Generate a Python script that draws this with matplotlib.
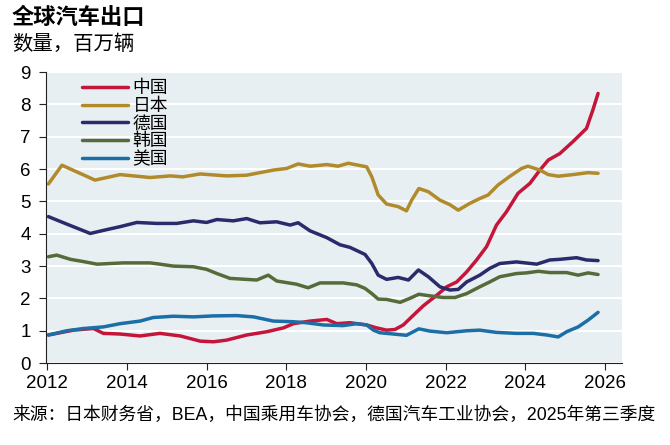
import matplotlib
matplotlib.use('Agg')
import matplotlib.pyplot as plt

plt.rcParams['font.family'] = ['Liberation Sans', 'Noto Sans CJK SC']

# values (million vehicles)
china_x = [2012.03, 2012.66, 2013.16, 2013.41, 2013.83, 2014.33, 2014.83, 2015.34, 2015.84, 2016.17,
           2016.5, 2017.01, 2017.51, 2017.93, 2018.18, 2018.6, 2019.02, 2019.27, 2019.6, 2020.02,
           2020.27, 2020.52, 2020.73, 2020.94, 2021.15, 2021.44, 2021.78, 2022.03, 2022.28, 2022.53,
           2022.78, 2023.03, 2023.28, 2023.53, 2023.82, 2024.12, 2024.37, 2024.58, 2024.87, 2025.2,
           2025.54, 2025.7, 2025.83]
china_y = [0.87, 1.02, 1.07, 0.92, 0.90, 0.84, 0.92, 0.84, 0.68, 0.66,
           0.71, 0.87, 0.97, 1.09, 1.22, 1.30, 1.35, 1.22, 1.25, 1.18,
           1.09, 1.02, 1.04, 1.18, 1.43, 1.77, 2.10, 2.36, 2.51, 2.82,
           3.19, 3.60, 4.27, 4.68, 5.25, 5.56, 5.97, 6.28, 6.48, 6.85,
           7.26, 7.83, 8.34]

japan_x = [2012.03, 2012.37, 2013.2, 2013.83, 2014.58, 2015.1, 2015.4, 2015.84, 2016.5, 2017.0,
           2017.68, 2018.01, 2018.3, 2018.6, 2019.02, 2019.3, 2019.56, 2020.02, 2020.15, 2020.31,
           2020.52, 2020.81, 2021.02, 2021.15, 2021.33, 2021.57, 2021.86, 2022.11, 2022.32, 2022.61,
           2022.86, 2023.07, 2023.32, 2023.62, 2023.91, 2024.07, 2024.37, 2024.58, 2024.83, 2025.2,
           2025.58, 2025.83]
japan_y = [5.54, 6.12, 5.66, 5.83, 5.74, 5.79, 5.76, 5.85, 5.79, 5.81,
           5.97, 6.02, 6.16, 6.09, 6.14, 6.09, 6.18, 6.07, 5.76, 5.20,
           4.92, 4.84, 4.71, 5.04, 5.40, 5.30, 5.04, 4.90, 4.73, 4.94,
           5.09, 5.20, 5.51, 5.78, 6.02, 6.09, 5.97, 5.83, 5.78, 5.83,
           5.89, 5.87]

germany_x = [2012.03, 2012.49, 2013.08, 2013.5, 2013.83, 2014.25, 2014.75, 2015.25, 2015.67, 2016.0,
             2016.26, 2016.67, 2017.01, 2017.34, 2017.76, 2018.1, 2018.3, 2018.6, 2019.02, 2019.35,
             2019.6, 2019.98, 2020.15, 2020.31, 2020.52, 2020.81, 2021.07, 2021.32, 2021.57, 2021.86,
             2022.11, 2022.32, 2022.53, 2022.86, 2023.11, 2023.36, 2023.78, 2024.29, 2024.62, 2024.87,
             2025.29, 2025.54, 2025.83]
germany_y = [4.53, 4.30, 4.01, 4.13, 4.22, 4.35, 4.32, 4.32, 4.40, 4.35,
             4.44, 4.40, 4.47, 4.34, 4.37, 4.27, 4.34, 4.09, 3.88, 3.66,
             3.58, 3.36, 3.08, 2.72, 2.59, 2.65, 2.57, 2.88, 2.67, 2.36,
             2.26, 2.28, 2.51, 2.72, 2.93, 3.08, 3.13, 3.06, 3.19, 3.21,
             3.26, 3.19, 3.17]

korea_x = [2012.03, 2012.24, 2012.58, 2012.91, 2013.25, 2013.91, 2014.58, 2014.83, 2015.17, 2015.67,
           2016.0, 2016.26, 2016.59, 2017.0, 2017.26, 2017.55, 2017.76, 2018.26, 2018.55, 2018.85,
           2019.43, 2019.77, 2019.98, 2020.15, 2020.31, 2020.52, 2020.86, 2021.1, 2021.33, 2021.61,
           2021.94, 2022.24, 2022.53, 2022.86, 2023.11, 2023.36, 2023.78, 2024.03, 2024.33, 2024.62,
           2025.04, 2025.33, 2025.58, 2025.83]
korea_y = [3.29, 3.34, 3.21, 3.14, 3.06, 3.10, 3.10, 3.06, 3.00, 2.98,
           2.90, 2.77, 2.62, 2.59, 2.57, 2.72, 2.54, 2.44, 2.33, 2.48,
           2.48, 2.42, 2.31, 2.15, 1.98, 1.97, 1.88, 2.00, 2.13, 2.08,
           2.03, 2.03, 2.15, 2.36, 2.51, 2.67, 2.77, 2.79, 2.84, 2.80,
           2.80, 2.72, 2.79, 2.74]

usa_x = [2012.03, 2012.49, 2012.91, 2013.41, 2013.83, 2014.33, 2014.66, 2015.17, 2015.67, 2016.17,
         2016.76, 2017.18, 2017.68, 2018.18, 2018.5, 2018.93, 2019.43, 2019.77, 2020.02, 2020.19,
         2020.35, 2020.69, 2021.02, 2021.33, 2021.61, 2022.03, 2022.53, 2022.86, 2023.28, 2023.78,
         2024.2, 2024.54, 2024.83, 2025.04, 2025.33, 2025.58, 2025.83]
usa_y = [0.87, 1.00, 1.07, 1.12, 1.22, 1.30, 1.41, 1.45, 1.43, 1.46,
         1.47, 1.43, 1.30, 1.28, 1.25, 1.18, 1.16, 1.22, 1.18, 1.02,
         0.94, 0.90, 0.86, 1.06, 0.99, 0.94, 1.00, 1.02, 0.95, 0.92,
         0.92, 0.87, 0.81, 0.97, 1.12, 1.33, 1.57]

series = [
    ('中国', china_x, china_y, '#c4163a'),
    ('日本', japan_x, japan_y, '#b08a2b'),
    ('德国', germany_x, germany_y, '#2a2b6b'),
    ('韩国', korea_x, korea_y, '#566b3a'),
    ('美国', usa_x, usa_y, '#1b6fa6'),
]

fig = plt.figure(figsize=(6.7, 4.45), dpi=100)
ax = fig.add_axes([0.0687, 0.184, 0.8596, 0.654])
ax.set_facecolor('#e8eff3')

for name, xs, ys, c in series:
    ax.plot(xs, ys, color=c, lw=2.5, label=name, solid_capstyle='round')

ax.set_xlim(2011.97, 2026.43)
ax.set_ylim(0, 9)
ax.set_xticks(range(2012, 2027, 2))
ax.set_yticks(range(0, 10))
ax.yaxis.grid(True, color='white', lw=1.5)
ax.set_axisbelow(True)
for s in ['top', 'right']:
    ax.spines[s].set_visible(False)
ax.spines['left'].set_color('#222222')
ax.spines['bottom'].set_color('#222222')
ax.tick_params(axis='both', labelsize=13.5, direction='out', length=5, color='#222222')
ax.tick_params(axis='y', pad=6)

ax.legend(loc='upper left', bbox_to_anchor=(0.05, 0.997), frameon=False, fontsize=12.8,
          handlelength=2.6, handletextpad=0.25, labelspacing=0.04, borderaxespad=0)

fig.text(0.018, 0.958, '全球汽车出口', fontsize=16, fontweight='bold', va='center')
fig.text(0.018, 0.9, '数量，百万辆', fontsize=14.7, va='center')
fig.text(0.018, 0.067, '来源：日本财务省，BEA，中国乘用车协会，德国汽车工业协会，2025年第三季度',
         fontsize=12.8, va='center')

fig.savefig('out.png', dpi=100)
